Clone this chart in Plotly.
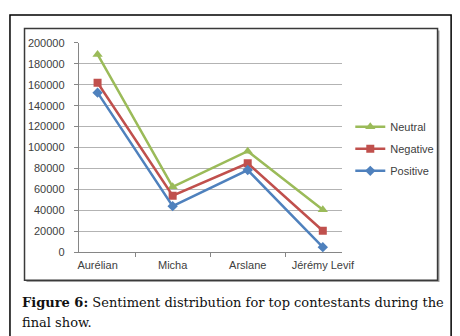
import plotly.graph_objects as go

categories = ["Aurélian", "Micha", "Arslane", "Jérémy Levif"]
neutral = [189000, 62500, 96500, 40500]
negative = [162000, 54000, 85000, 20500]
positive = [152500, 44000, 78500, 4800]
y_ticks = [0, 20000, 40000, 60000, 80000, 100000, 120000, 140000, 160000, 180000, 200000]

W, H = 460, 336
fig = go.Figure()

series = [
    ("Neutral", neutral, "#9BBB59", "triangle-up", 9),
    ("Negative", negative, "#C0504D", "square", 8),
    ("Positive", positive, "#4F81BD", "diamond", 8),
]
for name, vals, col, sym, sz in series:
    fig.add_trace(go.Scatter(
        x=categories, y=vals, name=name, mode="lines+markers", legendgroup=name,
        line=dict(color=col, width=2.5),
        marker=dict(symbol=sym, size=sz, color=col),
    ))

def px(x):
    return x / W

def py(y):
    return 1 - y / H

shapes = [
    dict(type="rect", xref="paper", yref="paper", x0=px(1), x1=px(456), y0=py(335), y1=py(1),
         line=dict(color="#000000", width=1.5), layer="below"),
    dict(type="rect", xref="paper", yref="paper", x0=px(18), x1=px(444), y0=py(278), y1=py(17),
         line=dict(width=0), fillcolor="#a0a0a0", layer="below"),
    dict(type="rect", xref="paper", yref="paper", x0=px(16), x1=px(442), y0=py(276), y1=py(15),
         line=dict(color="#3a3a3a", width=1.5), fillcolor="#ffffff", layer="below"),
]

fig.update_layout(
    width=W, height=H,
    margin=dict(l=0, r=0, t=0, b=0),
    paper_bgcolor="#ffffff",
    plot_bgcolor="rgba(0,0,0,0)",
    shapes=shapes,
    font=dict(family="Liberation Sans", size=11, color="#404040"),
    showlegend=True,
    legend=dict(
        x=px(352), y=py(102), xanchor="left", yanchor="top",
        bgcolor="rgba(0,0,0,0)", font=dict(size=11, color="#404040"),
        itemwidth=30, tracegroupgap=3,
    ),
    xaxis=dict(
        domain=[px(72), px(343)],
        type="category",
        showgrid=False,
        showline=True, linecolor="#868686", linewidth=1,
        ticks="outside", tickson="boundaries", ticklen=4, tickcolor="#868686",
        tickfont=dict(size=11, color="#404040"),
        ticklabelstandoff=3,
        zeroline=False,
    ),
    yaxis=dict(
        domain=[py(247), py(30)],
        range=[0, 200000],
        tickvals=y_ticks,
        ticktext=[str(v) for v in y_ticks],
        showgrid=True, gridcolor="#b3b3b3", gridwidth=1,
        showline=True, linecolor="#868686", linewidth=1,
        ticks="outside", ticklen=4, tickcolor="#868686",
        tickfont=dict(size=11, color="#404040"),
        ticklabelstandoff=7,
        zeroline=False,
    ),
    annotations=[
        dict(xref="paper", yref="paper", x=px(11), y=py(299), xanchor="left", yanchor="middle",
             text="<b>Figure 6:</b> Sentiment distribution for top contestants during the",
             showarrow=False, font=dict(family="DejaVu Serif", size=13, color="#111111")),
        dict(xref="paper", yref="paper", x=px(11), y=py(320), xanchor="left", yanchor="middle",
             text="final show.",
             showarrow=False, font=dict(family="DejaVu Serif", size=13, color="#111111")),
    ],
)

fig.write_html("out.html")
